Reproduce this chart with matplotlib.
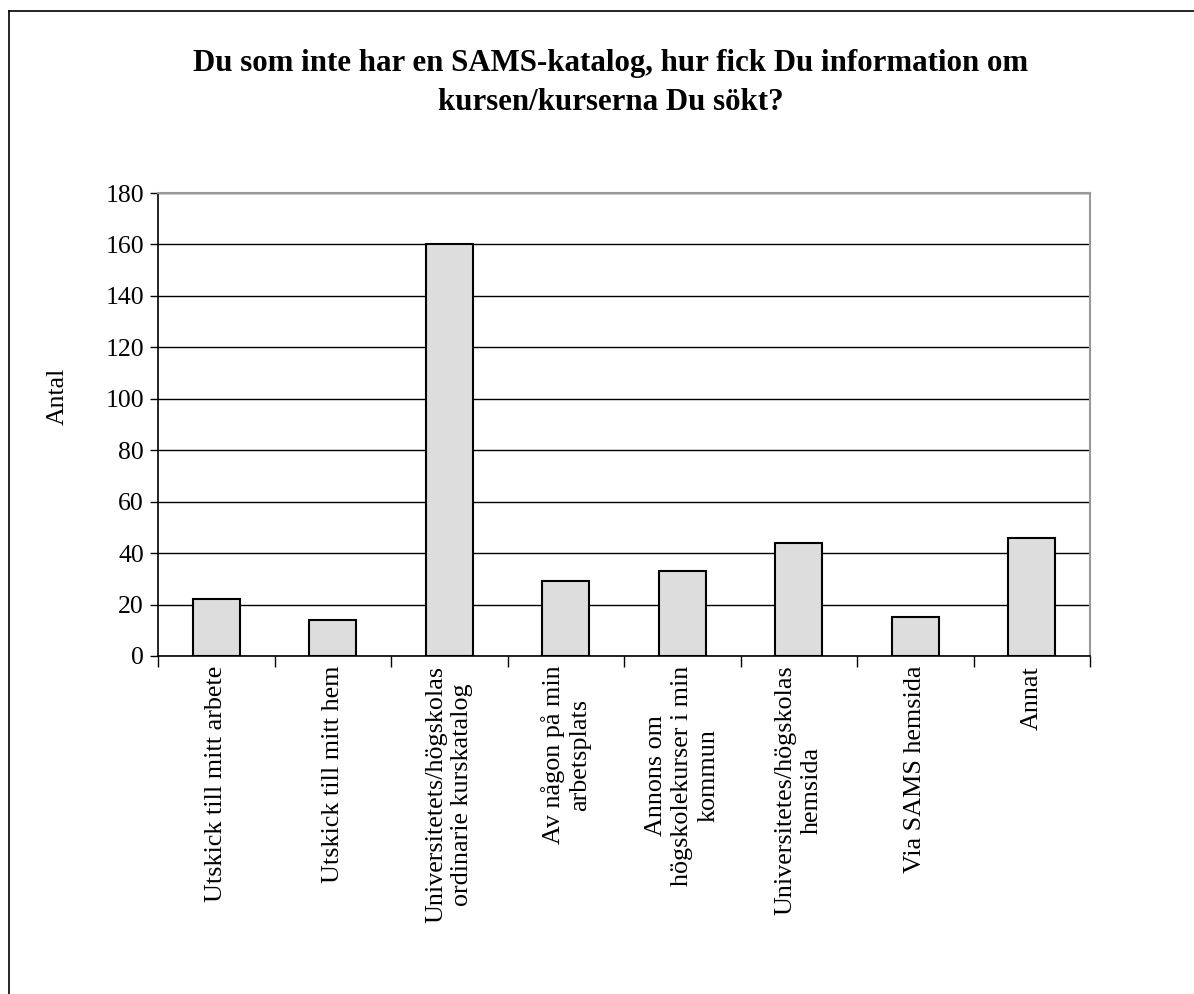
import numpy as np
import matplotlib
matplotlib.use('Agg')
import matplotlib.pyplot as plt
from matplotlib.lines import Line2D

plt.rcParams['font.family'] = ['Liberation Serif', 'DejaVu Serif']

# Data
categories = [
    'Utskick till mitt arbete',
    'Utskick till mitt hem',
    'Universitetets/högskolas\nordinarie kurskatalog',
    'Av någon på min\narbetsplats',
    'Annons om\nhögskolekurser i min\nkommun',
    'Universitetes/högskolas\nhemsida',
    'Via SAMS hemsida',
    'Annat',
]
values = [22, 14, 160, 29, 33, 44, 15, 46]
yticks = [0, 20, 40, 60, 80, 100, 120, 140, 160, 180]

W, H = 1194, 994
fig = plt.figure(figsize=(W / 100, H / 100), dpi=100)
ax = fig.add_axes([158 / W, 1 - 656 / H, (1090 - 158) / W, (656 - 193) / H])

x = np.arange(len(categories))
ax.bar(x, values, width=0.4, color='#dddddd', edgecolor='black', linewidth=1.5, zorder=3)

ax.set_xlim(-0.5, len(categories) - 0.5)
ax.set_ylim(0, 180)
ax.set_yticks(yticks)
ax.yaxis.grid(True, color='black', linewidth=1)
ax.set_axisbelow(True)

# labels at centres, ticks at category boundaries
ax.set_xticks(x)
ax.set_xticklabels(categories, rotation=90, ha='center', va='top', multialignment='center',
                   fontsize=18.8, linespacing=1.25)
ax.set_xticks(np.arange(len(categories) + 1) - 0.5, minor=True)
ax.tick_params(axis='x', which='major', length=0, pad=7)
ax.tick_params(axis='x', which='minor', length=8, width=1, direction='out')
ax.tick_params(axis='y', length=6, width=1, direction='out', labelsize=18.5, pad=4)

for s in ['top', 'right']:
    ax.spines[s].set_color('#999999')
    ax.spines[s].set_linewidth(1.5)
for s in ['left', 'bottom']:
    ax.spines[s].set_color('black')
    ax.spines[s].set_linewidth(1.2)

ax.set_ylabel('Antal', fontsize=18.5)
ax.yaxis.set_label_coords(-89 / (1090 - 158), 0.56)

fig.text(611 / W, 1 - 83 / H,
         'Du som inte har en SAMS-katalog, hur fick Du information om\nkursen/kurserna Du sökt?',
         ha='center', va='center', fontsize=22.2, fontweight='bold', linespacing=1.45)

# outer chart frame (only left and top edges are visible)
fig.add_artist(Line2D([8.5 / W, 8.5 / W], [0, 1 - 11 / H], color='black', linewidth=1.2))
fig.add_artist(Line2D([8.5 / W, 1], [1 - 11 / H, 1 - 11 / H], color='black', linewidth=1.2))

fig.savefig('out.png', dpi=100)
